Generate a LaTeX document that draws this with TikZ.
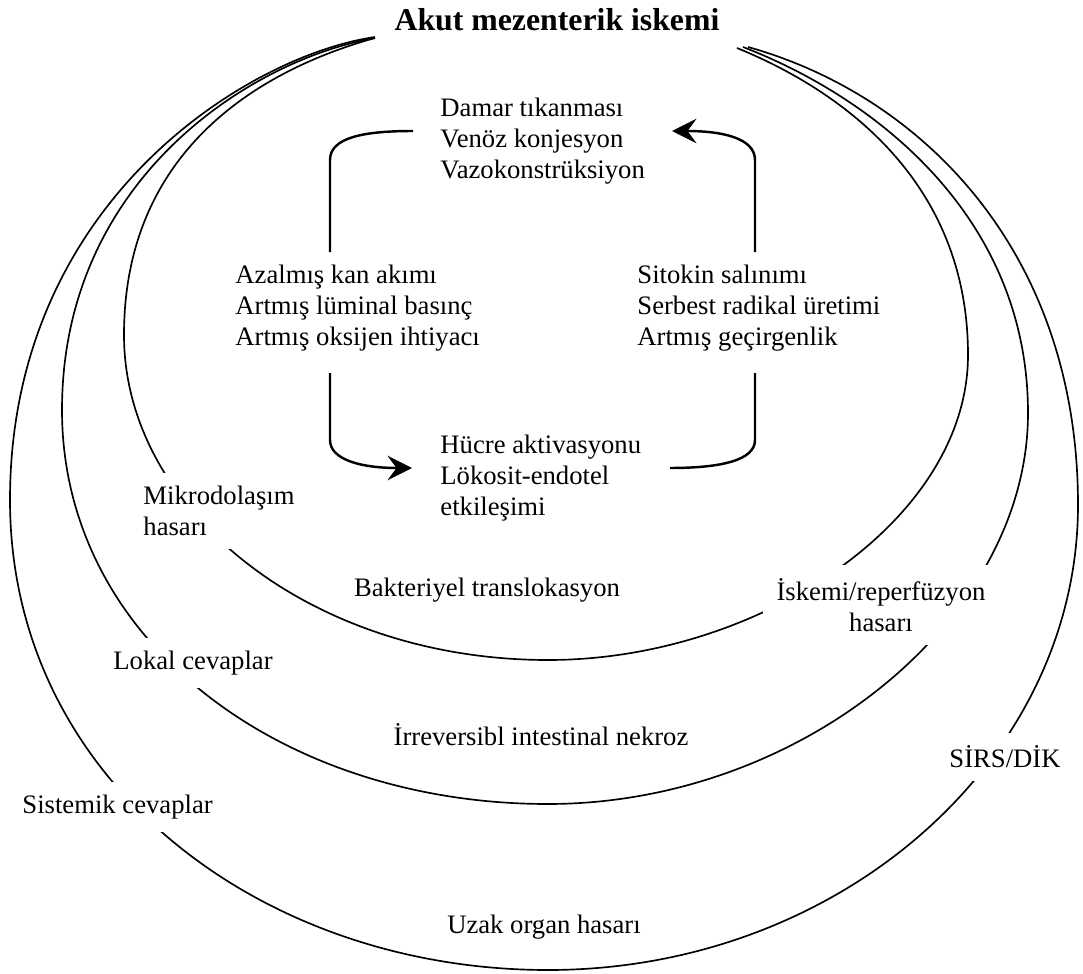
\documentclass[tikz,border=0pt]{standalone}
\usepackage{fontspec}
\setmainfont{Liberation Serif}
\usetikzlibrary{arrows.meta}
\begin{document}
\begin{tikzpicture}[x=0.45pt,y=-0.45pt,
  ring/.style={line width=0.75pt,black},
  cyc/.style={line width=1.1pt,black},
  arr/.style={-{Stealth[length=11pt,width=11pt,inset=4pt]}},
  lbl/.style={font=\fontsize{12}{14}\selectfont,inner sep=0pt,align=left},
  mask/.style={lbl,fill=white,inner sep=6pt},
  ttl/.style={font=\fontsize{14.3}{16}\selectfont\bfseries,inner sep=0pt}]
\useasboundingbox (0,0) rectangle (1083,974);

% innermost ring
\draw[ring] (375,38) .. controls (260,70) and (124,150) .. (124,335)
  .. controls (124,510) and (310,660) .. (548,660)
  .. controls (760,660) and (968,520) .. (968,355)
  .. controls (968,180) and (840,90) .. (737,48);
% middle ring
\draw[ring] (375,38) .. controls (250,60) and (62,180) .. (62,410)
  .. controls (62,640) and (280,804) .. (548,804)
  .. controls (800,804) and (1028,620) .. (1028,413)
  .. controls (1028,220) and (880,100) .. (743,47);
% outer ring
\draw[ring] (375,37) .. controls (250,55) and (10,200) .. (10,500)
  .. controls (10,780) and (260,970) .. (548,970)
  .. controls (840,970) and (1078,760) .. (1078,505)
  .. controls (1078,250) and (920,95) .. (748,47);

% title
\node[ttl] (T) at (557,20) {Akut mezenterik iskemi};

% cycle texts
\node[lbl,anchor=west] (top) at (440,141) {Damar tıkanması\\Venöz konjesyon\\Vazokonstrüksiyon};
\node[lbl,anchor=west] (lg) at (235,308) {Azalmış kan akımı\\Artmış lüminal basınç\\Artmış oksijen ihtiyacı};
\node[lbl,anchor=west] (rg) at (637,308) {Sitokin salınımı\\Serbest radikal üretimi\\Artmış geçirgenlik};
\node[lbl,anchor=west] (bot) at (440,478) {Hücre aktivasyonu\\Lökosit-endotel\\etkileşimi};

% cycle connectors
\coordinate (L1) at (330,252); \coordinate (L2) at (413,131);
\coordinate (R1) at (755,252); \coordinate (R2) at (672,131);
\coordinate (L3) at (330,373); \coordinate (L4) at (412,468);
\coordinate (R3) at (670,468); \coordinate (R4) at (755,373);
\draw[cyc] (L1) -- (330,160) .. controls (330,138) and (362,131) .. (L2);
\draw[cyc,arr] (R1) -- (755,160) .. controls (755,138) and (722,131) .. (R2);
\draw[cyc,arr] (L3) -- (330,440) .. controls (330,460) and (362,468) .. (L4);
\draw[cyc] (R3) .. controls (722,468) and (755,460) .. (755,440) -- (R4);

% ring labels (masking the rings)
\node[mask,anchor=west,xshift=-6pt] (mikro) at (143,511) {Mikrodolaşım\\hasarı};
\node[mask] (bakt) at (487,590) {Bakteriyel translokasyon};
\node[mask,align=center] (isk) at (881,605) {İskemi/reperfüzyon\\hasarı};
\node[mask,anchor=west,xshift=-6pt] (lokal) at (113,663) {Lokal cevaplar};
\node[mask] (irrev) at (541,735) {İrreversibl intestinal nekroz};
\node[mask] (sirs) at (1005,757) {SİRS/DİK};
\node[mask,anchor=west,xshift=-6pt] (sist) at (22,807) {Sistemik cevaplar};
\node[mask] (uzak) at (544,927) {Uzak organ hasarı};
\end{tikzpicture}
\end{document}
